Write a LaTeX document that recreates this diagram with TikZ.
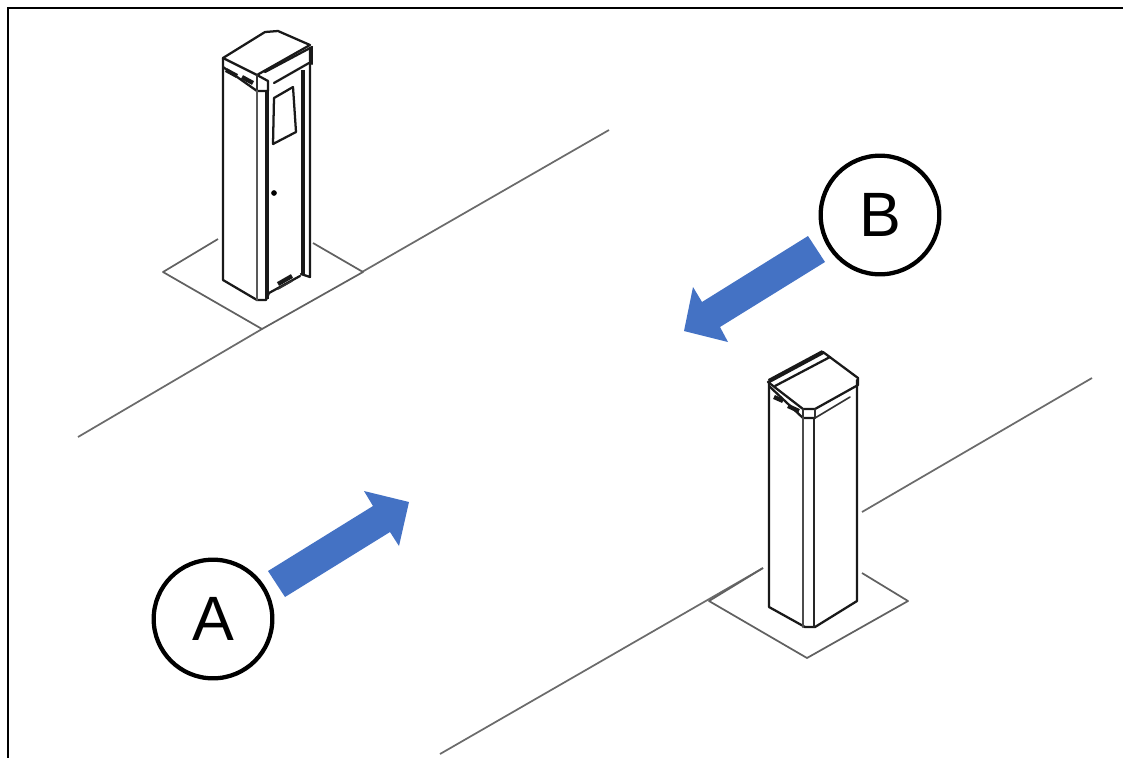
\documentclass[tikz,border=0pt]{standalone}
\usepackage{fontspec}
\setmainfont{Liberation Sans}
\definecolor{arrowblue}{HTML}{4472C4}
\tikzset{
	ground/.style={line width=1.3pt, color=black!58},
	plate/.style={line width=1.3pt, color=black!62, line join=round},
	edge/.style={line width=1.7pt, color=black!90, line join=round, line cap=round},
	thin edge/.style={line width=1.2pt, color=black!80, line join=round, line cap=round},
	heavy edge/.style={line width=3.2pt, color=black!90},
	flow/.style={fill=arrowblue, draw=none},
	mark circle/.style={circle, draw=black, line width=3.2pt, fill=white, minimum size=89pt, inner sep=0pt, font=\fontsize{47}{50}\selectfont}
}
\begin{document}
\begin{tikzpicture}[x=0.75pt, y=-0.75pt]
		%%%%% START %%%%%
		\useasboundingbox (0, 0) rectangle (1123, 758);
		
		% frame, open at the right and at the bottom
		\draw[line width=2pt] (1123, 8) -- (8, 8) -- (8, 758);
		
		% ground lines
		\draw[ground] (78, 437) -- (262, 329);
		\draw[ground] (362, 272) -- (609, 130);
		\draw[ground] (440, 754) -- (763, 568);
		\draw[ground] (862, 512) -- (1092, 378);
		
		% plate of the far pillar
		\draw[plate] (218, 239) -- (163, 272) -- (262, 329) -- (363, 272) -- (313, 243);
		
		% far pillar, cap
		\draw[edge] (223, 58) -- (265, 32) -- (278, 31) -- (310, 45) -- (257, 75) -- cycle;
		\draw[edge] (265, 72) -- (312, 47);
		\draw[edge] (274, 83) -- (309, 63);
		\draw[edge] (312, 47) -- (312, 64);
		\draw[edge] (223, 67) -- (257, 91) -- (268, 91) -- (268, 81) -- (257, 75);
		\draw[thin edge] (257, 75) -- (257, 91);
		\draw[heavy edge] (226, 70) -- (237, 76);
		\draw[heavy edge] (242, 77) -- (253, 83);
		
		% far pillar, body
		\draw[edge] (223, 58) -- (223, 280) -- (257, 300) -- (266, 300) -- (269, 293) -- (300, 276);
		\draw[edge, color=black!65] (257, 91) -- (257, 300);
		\draw[heavy edge] (267, 91) -- (267, 299);
		\draw[heavy edge] (303, 70) -- (303, 275);
		\draw[edge] (310, 48) -- (310, 277) -- (301, 274);
		
		% far pillar, door
		\draw[edge] (274, 98) -- (293, 87) -- (296, 132) -- (273, 144) -- cycle;
		\draw[fill=black] (274, 193) circle (2.5);
		\draw[heavy edge] (278, 284) -- (292, 276);
		\draw[thin edge] (278, 289) -- (292, 281);
		
		% plate of the near pillar
		\draw[plate] (763, 568) -- (709, 601) -- (807, 658) -- (908, 601) -- (862, 573);
		
		% near pillar, cap
		\draw[edge] (768, 382) -- (823, 352) -- (858, 378) -- (858, 385) -- (815, 409) -- (803, 409) -- cycle;
		\draw[heavy edge] (769, 381) -- (823, 352);
		\draw[edge] (775, 386) -- (830, 357);
		\draw[edge] (769, 386) -- (803, 418) -- (815, 418);
		\draw[thin edge] (815, 418) -- (850, 397);
		\draw[thin edge] (803, 409) -- (803, 418);
		\draw[thin edge] (815, 409) -- (815, 418);
		\draw[heavy edge] (774, 397) -- (783, 401);
		\draw[heavy edge] (788, 406) -- (799, 411);
		
		% near pillar, body
		\draw[edge] (769, 382) -- (769, 607) -- (805, 627) -- (815, 627) -- (857, 601) -- (857, 380);
		\draw[edge, color=black!70] (803, 418) -- (803, 627);
		\draw[edge, color=black!85] (814, 418) -- (814, 627);
		
		% flow arrows
		\draw[flow] (268, 571) -- (373, 506) -- (364, 491) -- (409, 502) -- (399, 546) -- (390, 532) -- (285, 597) -- cycle;
		\draw[flow] (808, 236) -- (702, 302) -- (693, 287) -- (684, 331) -- (728, 342) -- (720, 327) -- (825, 262) -- cycle;
		
		% markers
		\node[mark circle] (markA) at (213, 619) {A};
		\node[mark circle] (markB) at (880, 215) {B};
		
		%%%%% END %%%%%
	\end{tikzpicture}
\end{document}
